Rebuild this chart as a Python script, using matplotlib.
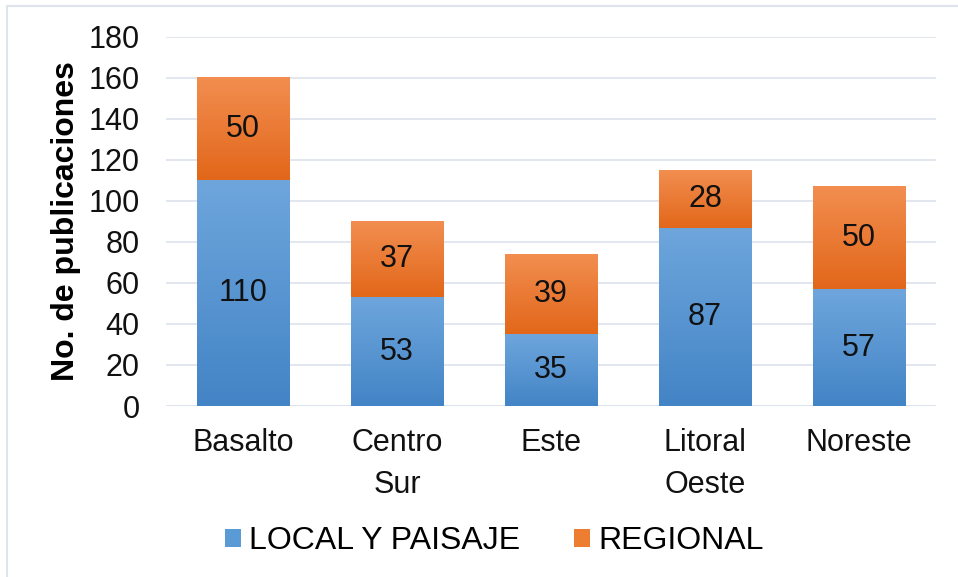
import matplotlib.pyplot as plt
import numpy as np
from matplotlib.colors import LinearSegmentedColormap
from matplotlib.patches import Rectangle

plt.rcParams['font.family'] = ['Liberation Sans', 'DejaVu Sans']

regiones = ['Basalto', 'Centro\nSur', 'Este', 'Litoral\nOeste', 'Noreste']
local_paisaje = [110, 53, 35, 87, 57]
regional = [50, 37, 39, 28, 50]
yticks = list(range(0, 181, 20))

# colores con degradado (arriba claro, abajo oscuro)
blue_cm = LinearSegmentedColormap.from_list('b', ['#4384c6', '#6ea6dc'])
orange_cm = LinearSegmentedColormap.from_list('o', ['#e2671a', '#f28e50'])

fig = plt.figure(figsize=(9.58, 5.77), dpi=100)
ax = fig.add_axes([166 / 958, 1 - 406 / 577, 770 / 958, 369 / 577])

x = np.arange(len(regiones))
w = 0.6
b1 = ax.bar(x, local_paisaje, w, color='#5b9bd5', label='LOCAL Y PAISAJE', zorder=2)
b2 = ax.bar(x, regional, w, bottom=local_paisaje, color='#ed7d31', label='REGIONAL', zorder=2)

grad = np.linspace(0, 1, 256).reshape(-1, 1)
for bars, cm in ((b1, blue_cm), (b2, orange_cm)):
    for r in bars:
        x0, y0 = r.get_x(), r.get_y()
        ax.imshow(grad, cmap=cm, origin='lower', aspect='auto', zorder=2.5,
                  extent=(x0, x0 + r.get_width(), y0, y0 + r.get_height()))

fs = 22
for i in range(len(regiones)):
    ax.text(x[i], local_paisaje[i] / 2, str(local_paisaje[i]), ha='center', va='center',
            fontsize=fs, color='#111111', zorder=3)
    ax.text(x[i], local_paisaje[i] + regional[i] / 2, str(regional[i]), ha='center',
            va='center', fontsize=fs, color='#111111', zorder=3)

ax.set_xlim(-0.5, 4.5)
ax.set_ylim(0, 180)
ax.set_yticks(yticks)
ax.set_xticks(x)
ax.set_xticklabels(regiones, fontsize=fs, linespacing=1.5, color='#111111')
ax.tick_params(axis='y', labelsize=fs, length=0, pad=19, labelcolor='#111111')
ax.tick_params(axis='x', length=0, pad=16)
ax.grid(axis='y', color='#dde3ec', linewidth=1.2, zorder=0)
for s in ax.spines.values():
    s.set_visible(False)
ax.axhline(0, color='#d5dbe5', linewidth=1.3, zorder=1)
ax.set_ylabel('No. de publicaciones', fontsize=23, fontweight='bold', labelpad=5)

fig.legend(handles=[b1, b2], loc='center', bbox_to_anchor=(494 / 958, 1 - 541 / 577),
           ncol=2, frameon=False, fontsize=23, handlelength=0.5, handleheight=0.5,
           handletextpad=0.25, columnspacing=1.7)

fig.patches.append(Rectangle((7 / 958, -0.05), 1.1, 1 - 6 / 577 + 0.05,
                             transform=fig.transFigure, fill=False,
                             edgecolor='#dfe3ee', linewidth=1.5, figure=fig))

fig.savefig('out.png', dpi=100)
